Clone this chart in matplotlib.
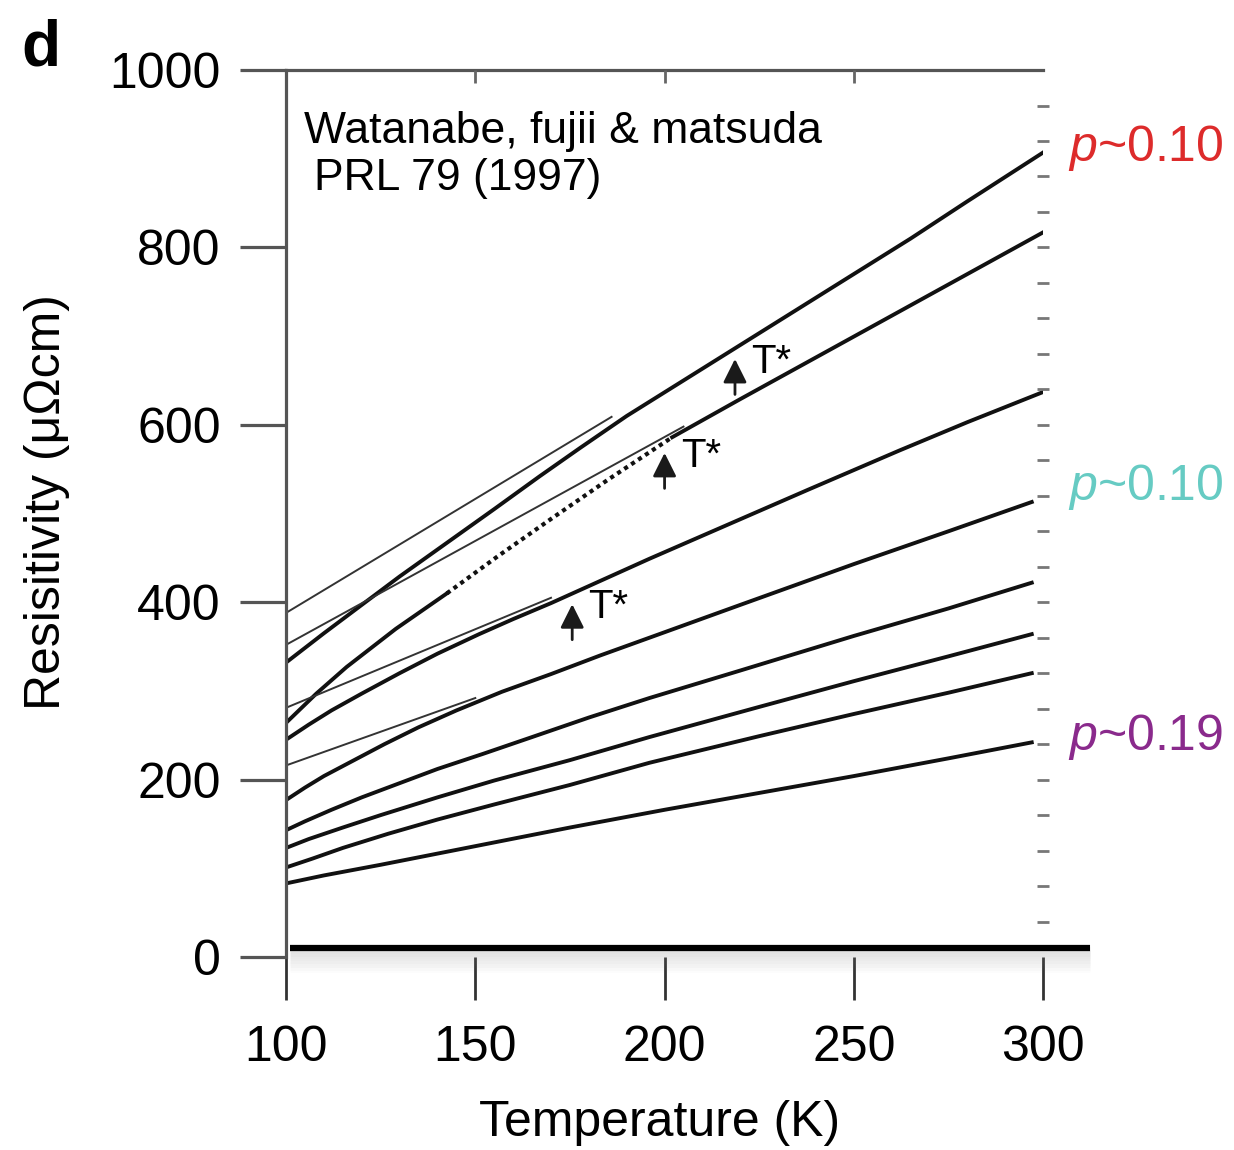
import numpy as np
import matplotlib.pyplot as plt

plt.rcParams['font.family'] = ['Liberation Sans', 'DejaVu Sans']
plt.rcParams['mathtext.fontset'] = 'custom'
plt.rcParams['mathtext.it'] = 'Liberation Sans:italic'
plt.rcParams['mathtext.rm'] = 'Liberation Sans'

# resistivity curves (muOhm cm) vs temperature (K)
a_T = [100, 110, 120, 130, 142.5, 155, 167, 177.7, 190, 205, 220, 235, 250, 265, 280, 300]
a_R = [332, 365, 397, 429, 467, 505, 542, 574, 610, 650, 690, 730, 770, 810, 852, 907]
b_T = [100, 108, 116, 129, 142.5, 156, 169.7, 185, 202, 220, 240, 260, 280, 300]
b_R = [264, 297, 327, 370, 410, 452, 493, 538, 586, 629, 676, 723, 770, 817]
c_T = [100, 106, 112, 120, 130, 140, 151, 160, 170, 183, 196, 217, 238, 262, 280, 300]
c_R = [245, 262, 278, 297, 320, 342, 364, 381, 399, 424, 449, 488, 527, 571, 603, 637]
d_T = [100, 105, 110, 118, 126, 135, 145, 157, 170, 183, 196, 220, 250, 275, 297]
d_R = [177, 191, 204, 222, 240, 259, 278, 299, 319, 340, 360, 397, 443, 480, 513]
e_T = [100, 105, 112, 120, 130, 140, 152, 165, 180, 196, 220, 250, 275, 297]
e_R = [143, 153, 166, 180, 196, 212, 229, 248, 270, 292, 323, 362, 393, 422]
f_T = [100, 106, 115, 125, 140, 155, 175, 196, 225, 250, 275, 297]
f_R = [123, 133, 146, 160, 180, 199, 222, 248, 282, 311, 339, 364]
g_T = [100, 107, 115, 127, 140, 155, 175, 196, 225, 250, 275, 297]
g_R = [101, 111, 123, 139, 155, 172, 194, 219, 249, 274, 298, 320]
h_T = [100, 110, 125, 150, 175, 200, 225, 250, 275, 297]
h_R = [83, 92, 104, 125, 146, 166, 185, 204, 224, 242]

# linear high-T extrapolations (thin lines)
a_lin_T = [100, 186]
a_lin_R = [388, 609]
b_lin_T = [100, 205]
b_lin_R = [352, 598]
c_lin_T = [100, 170]
c_lin_R = [281, 405]
d_lin_T = [100, 150]
d_lin_R = [216, 292]

# dotted part of curve b
b_dot = (142.5, 202)

# T* marks: temperature and the curve each arrow points at
tstar_T = [218.6, 200.0, 175.6]
tstar_curve = ['a', 'b', 'c']

doping_labels = ['~0.10', '~0.10', '~0.19']
doping_colors = ['#DD2B2B', '#66CBC3', '#8A2A8C']
doping_R = [912, 530, 248]

fig = plt.figure(figsize=(12.34, 11.5), dpi=100)
ax = fig.add_axes([0.2318, 0.1678, 0.6135, 0.7713])

curves = {'a': (a_T, a_R), 'b': (b_T, b_R), 'c': (c_T, c_R), 'd': (d_T, d_R),
          'e': (e_T, e_R), 'f': (f_T, f_R), 'g': (g_T, g_R), 'h': (h_T, h_R)}

for name, (T, R) in curves.items():
    if name == 'b':
        T = np.array(T)
        R = np.array(R)
        lo = T <= b_dot[0]
        mid = (T >= b_dot[0]) & (T <= b_dot[1])
        hi = T >= b_dot[1]
        ax.plot(T[lo], R[lo], color='#111111', lw=2.8, solid_joinstyle='round')
        ax.plot(T[mid], R[mid], color='#111111', lw=3.0, ls=(0, (1, 1)))
        ax.plot(T[hi], R[hi], color='#111111', lw=2.8, solid_joinstyle='round')
    else:
        ax.plot(T, R, color='#111111', lw=2.8, solid_joinstyle='round')

for T, R in [(a_lin_T, a_lin_R), (b_lin_T, b_lin_R), (c_lin_T, c_lin_R), (d_lin_T, d_lin_R)]:
    ax.plot(T, R, color='#333333', lw=1.4)

# T* arrows
for t, cname in zip(tstar_T, tstar_curve):
    T, R = curves[cname]
    tip = np.interp(t, T, R) - 12
    ax.annotate('', xy=(t, tip), xytext=(t, tip - 40),
                arrowprops=dict(arrowstyle='-|>', color='#1a1a1a', lw=2.0,
                                mutation_scale=36, shrinkA=0, shrinkB=0))
    ax.text(t + 4.3, tip - 3, 'T*', fontsize=29, va='center', ha='left')

# thick baseline with soft shadow
for i in range(10):
    ax.plot([101, 312.5], [10 - 2.6 * i, 10 - 2.6 * i], color='#888888',
            lw=5, alpha=0.10 - 0.009 * i, clip_on=False, solid_capstyle='butt')
ax.plot([101, 312.5], [10, 10], color='black', lw=4.5, clip_on=False,
        solid_capstyle='butt')

ax.set_xlim(100, 300)
ax.set_ylim(0, 1000)
ax.set_xticks([100, 150, 200, 250, 300])
ax.set_yticks([0, 200, 400, 600, 800, 1000])

for s in ['right', 'bottom']:
    ax.spines[s].set_visible(False)
for s in ['left', 'top']:
    ax.spines[s].set_color('#555555')
    ax.spines[s].set_linewidth(2.3)

ax.tick_params(axis='y', direction='out', length=33, width=2.3, color='#555555',
               pad=14, labelsize=36)
ax.tick_params(axis='x', direction='out', length=31, width=2.0, color='#333333',
               pad=18, labelsize=36)

ax.set_xlabel('Temperature (K)', fontsize=36)
ax.set_ylabel('Resisitivity (μΩcm)', fontsize=36)
ax.xaxis.set_label_coords(0.494, -0.161)
ax.yaxis.set_label_coords(-0.285, 0.513)

# faint marks on the top and right edges of the scanned frame
ax_t = ax.twiny()
ax_t.set_xlim(100, 300)
ax_t.set_xticks([150, 200, 250])
ax_t.tick_params(axis='x', direction='in', length=9, width=2.0, color='#666666',
                 labeltop=False)
ax_r = ax.twinx()
ax_r.set_ylim(0, 1000)
ax_r.set_yticks(np.arange(40, 1000, 40))
ax_r.tick_params(axis='y', direction='inout', length=8, width=2.0, color='#777777',
                 labelright=False)
for a2 in (ax_t, ax_r):
    for s in a2.spines.values():
        s.set_visible(False)

ax.text(104.8, 918, 'Watanabe, fujii & matsuda', fontsize=32, va='baseline')
ax.text(107.4, 865, 'PRL 79 (1997)', fontsize=32, va='baseline')

for lab, col, r in zip(doping_labels, doping_colors, doping_R):
    ax.text(306.6, r, '$p$' + lab, color=col, fontsize=36, va='center',
            ha='left', clip_on=False)

fig.text(0.017, 0.984, 'd', fontsize=46, fontweight='bold', va='top', ha='left')

fig.savefig('out.png', dpi=100)
